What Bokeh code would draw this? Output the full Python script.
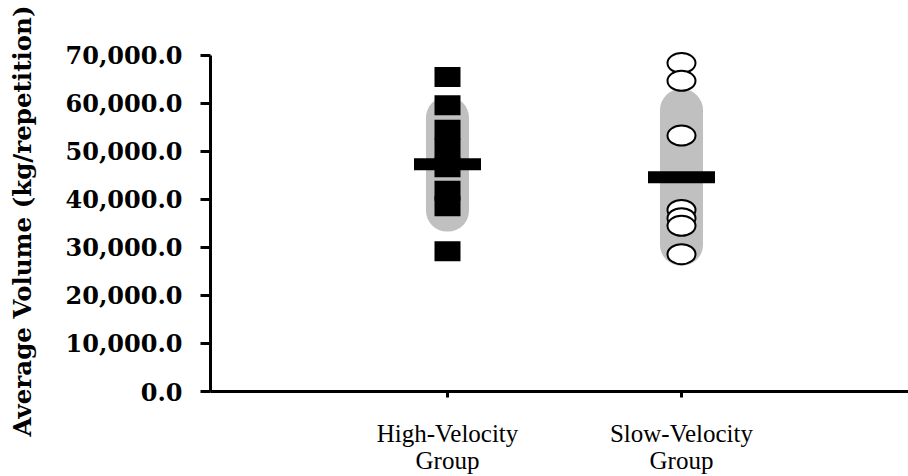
from bokeh.plotting import figure
from bokeh.models import FixedTicker, NumeralTickFormatter, Range1d
from bokeh.embed import file_html
from bokeh.resources import INLINE

# ---- data ----
categories = ["High-Velocity\nGroup", "Slow-Velocity\nGroup"]
cat_pos = [1, 2]
high_values = [65500, 59600, 54500, 50600, 46700, 41800, 38600, 29200]
slow_values = [68400, 64700, 53300, 37800, 36100, 34500, 28600]
group_means = [47350, 44600]
group_sds = [14050, 18400]
y_ticks = [0, 10000, 20000, 30000, 40000, 50000, 60000, 70000]

p = figure(width=908, height=476, output_backend="svg", toolbar_location=None,
           x_range=Range1d(-0.0128, 2.9701), y_range=Range1d(0, 71020),
           min_border_left=210, min_border_right=0, min_border_top=50, min_border_bottom=78)
p.outline_line_color = None
p.xgrid.visible = False
p.ygrid.visible = False
p.background_fill_color = "white"
p.border_fill_color = "white"

# SD bands
tops = [m + s for m, s in zip(group_means, group_sds)]
bottoms = [m - s for m, s in zip(group_means, group_sds)]
p.vbar(x=cat_pos, width=0.184, top=tops, bottom=bottoms, fill_color="#c0c0c0",
       line_color=None, border_radius=21)

# individual points
p.rect(x=[cat_pos[0]] * len(high_values), y=high_values, width=26, height=20,
       width_units="screen", height_units="screen", fill_color="black", line_color=None)
p.ellipse(x=[cat_pos[1]] * len(slow_values), y=slow_values, width=28, height=20,
          width_units="screen", height_units="screen", fill_color="white",
          line_color="black", line_width=2)

# mean bars
p.rect(x=cat_pos, y=group_means, width=67, height=12, width_units="screen",
       height_units="screen", fill_color="black", line_color=None)

# y axis
ya = p.yaxis[0]
ya.bounds = (0, 70000)
ya.ticker = FixedTicker(ticks=y_ticks)
ya.formatter = NumeralTickFormatter(format="0,0.0")
ya.axis_line_width = 3
ya.major_tick_line_width = 3
ya.major_tick_out = 10
ya.major_tick_in = 0
ya.minor_tick_line_color = None
ya.major_label_text_font = "DejaVu Serif"
ya.major_label_text_font_style = "bold"
ya.major_label_text_font_size = "24px"
ya.major_label_text_color = "black"
ya.major_label_standoff = 18
ya.axis_label = "Average Volume (kg/repetition)"
ya.axis_label_text_font = "DejaVu Serif"
ya.axis_label_text_font_style = "bold"
ya.axis_label_text_font_size = "24.5px"
ya.axis_label_text_color = "black"
ya.axis_label_standoff = 26

# x axis
xa = p.xaxis[0]
xa.ticker = FixedTicker(ticks=cat_pos)
xa.major_label_overrides = {pos: lab for pos, lab in zip(cat_pos, categories)}
xa.axis_line_width = 3
xa.major_tick_line_width = 3
xa.major_tick_out = 6
xa.major_tick_in = 0
xa.minor_tick_line_color = None
xa.major_label_text_font = "Liberation Serif"
xa.major_label_text_font_size = "25px"
xa.major_label_text_color = "black"
xa.major_label_text_line_height = 1.0
xa.major_label_standoff = 22

open("out.html", "w").write(file_html(p, INLINE))
